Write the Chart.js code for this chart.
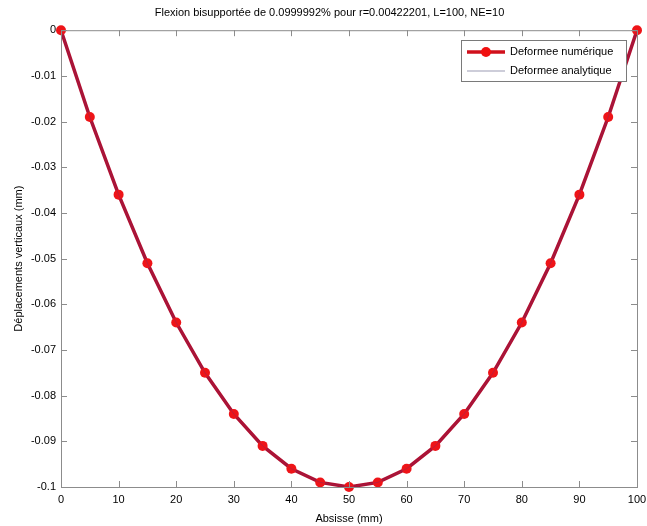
<!DOCTYPE html>
<html>
<head>
<meta charset="utf-8">
<script src="https://cdn.jsdelivr.net/npm/chart.js@4"></script>
<style>
  html, body { margin: 0; padding: 0; background: #fff; }
  #wrap { width: 647px; height: 526px; }
</style>
</head>
<body>
<div id="wrap"><canvas id="myChart" width="647" height="526"></canvas></div>
<script>
const abscisses = [0, 5, 10, 15, 20, 25, 30, 35, 40, 45, 50, 55, 60, 65, 70, 75, 80, 85, 90, 95, 100]
const deformeeNumerique = [0, -0.019, -0.036, -0.051, -0.064, -0.075, -0.084, -0.091, -0.096, -0.099, -0.1,
  -0.099, -0.096, -0.091, -0.084, -0.075, -0.064, -0.051, -0.036, -0.019, 0]
const deformeeAnalytique = [0, -0.019, -0.036, -0.051, -0.064, -0.075, -0.084, -0.091, -0.096, -0.099, -0.1,
  -0.099, -0.096, -0.091, -0.084, -0.075, -0.064, -0.051, -0.036, -0.019, 0]
const xTicks = [0, 10, 20, 30, 40, 50, 60, 70, 80, 90, 100]
const yTicks = [0, -0.01, -0.02, -0.03, -0.04, -0.05, -0.06, -0.07, -0.08, -0.09, -0.1]

const FONT = 'Liberation Sans, Arial, sans-serif'
const axisGrey = '#8c8c8c'

// box + inside ticks like matlab, and legend in the corner
const matlabBox = {
  id: 'matlabBox',
  afterDraw(chart) {
    const ctx = chart.ctx
    const a = chart.chartArea
    const xs = chart.scales.x
    const ys = chart.scales.y
    ctx.save()
    ctx.strokeStyle = axisGrey
    ctx.lineWidth = 1
    ctx.strokeRect(a.left + 0.5, a.top + 0.5, a.right - a.left, a.bottom - a.top)
    ctx.beginPath()
    xTicks.forEach(v => {
      const px = Math.round(xs.getPixelForValue(v)) + 0.5
      ctx.moveTo(px, a.bottom); ctx.lineTo(px, a.bottom - 6)
      ctx.moveTo(px, a.top); ctx.lineTo(px, a.top + 6)
    })
    yTicks.forEach(v => {
      const py = Math.round(ys.getPixelForValue(v)) + 0.5
      ctx.moveTo(a.left, py); ctx.lineTo(a.left + 6, py)
      ctx.moveTo(a.right, py); ctx.lineTo(a.right - 6, py)
    })
    ctx.stroke()

    // legend
    const lx = 461, ly = 40, lw = 165, lh = 41
    ctx.fillStyle = '#fff'
    ctx.fillRect(lx, ly, lw, lh)
    ctx.strokeStyle = '#7a7a7a'
    ctx.strokeRect(lx + 0.5, ly + 0.5, lw, lh)
    ctx.strokeStyle = '#d0101c'
    ctx.lineWidth = 3.5
    ctx.beginPath(); ctx.moveTo(lx + 6, ly + 12); ctx.lineTo(lx + 44, ly + 12); ctx.stroke()
    ctx.fillStyle = '#f01010'
    ctx.beginPath(); ctx.arc(lx + 25, ly + 12, 5, 0, Math.PI * 2); ctx.fill()
    ctx.strokeStyle = '#9c9cb4'
    ctx.lineWidth = 1.2
    ctx.beginPath(); ctx.moveTo(lx + 6, ly + 31); ctx.lineTo(lx + 44, ly + 31); ctx.stroke()
    ctx.fillStyle = '#000'
    ctx.font = '11px ' + FONT
    ctx.textBaseline = 'middle'
    ctx.fillText('Deformee numérique', lx + 49, ly + 12)
    ctx.fillText('Deformee analytique', lx + 49, ly + 31)
    ctx.restore()
  }
}

const ctx = document.getElementById('myChart')

const chart = new Chart(ctx, {
  type: 'line',
  data: {
    labels: abscisses,
    datasets: [{
      label: 'Deformee numérique',
      data: abscisses.map((x, i) => ({x: x, y: deformeeNumerique[i]})),
      borderColor: '#b00f30',
      borderWidth: 3.5,
      pointBackgroundColor: '#ee1418',
      pointBorderColor: '#ee1418',
      pointRadius: 5,
      pointBorderWidth: 0,
      clip: false,
      order: 2
    }, {
      label: 'Deformee analytique',
      data: abscisses.map((x, i) => ({x: x, y: deformeeAnalytique[i]})),
      borderColor: 'rgba(140,40,90,0.5)',
      borderWidth: 1,
      pointRadius: 0,
      clip: false,
      order: 1
    }]
  },
  options: {
    responsive: false,
    animation: false,
    layout: { padding: { left: 12, right: 0, top: 0, bottom: 0 } },
    plugins: {
      legend: { display: false },
      tooltip: { enabled: false },
      title: {
        display: true,
        text: 'Flexion bisupportée de 0.0999992% pour r=0.00422201, L=100, NE=10',
        color: '#000',
        font: { family: FONT, size: 11, weight: 'normal' },
        padding: { top: 6, bottom: 11 }
      }
    },
    scales: {
      x: {
        type: 'linear',
        min: 0,
        max: 100,
        grid: { display: false, drawTicks: false },
        border: { display: false },
        ticks: {
          stepSize: 10,
          color: '#000',
          padding: 6,
          maxRotation: 0,
          font: { family: FONT, size: 11 }
        },
        title: {
          display: true,
          text: 'Absisse (mm)',
          color: '#000',
          font: { family: FONT, size: 11 },
          padding: { top: 2, bottom: 0 }
        },
        afterFit(scale) {
          scale.height = 39
          scale.paddingRight = 10
        }
      },
      y: {
        min: -0.1,
        max: 0,
        grid: { display: false, drawTicks: false },
        border: { display: false },
        afterBuildTicks(scale) { scale.ticks = yTicks.map(v => ({value: v})) },
        ticks: {
          color: '#000',
          padding: 5,
          font: { family: FONT, size: 11 },
          callback: v => String(Math.round(v * 100) / 100)
        },
        title: {
          display: true,
          text: 'Déplacements verticaux (mm)',
          color: '#000',
          font: { family: FONT, size: 11 },
          padding: { top: 0, bottom: 4 }
        },
        afterFit(scale) { scale.width = 49 }
      }
    }
  },
  plugins: [matlabBox]
})
</script>
</body>
</html>
